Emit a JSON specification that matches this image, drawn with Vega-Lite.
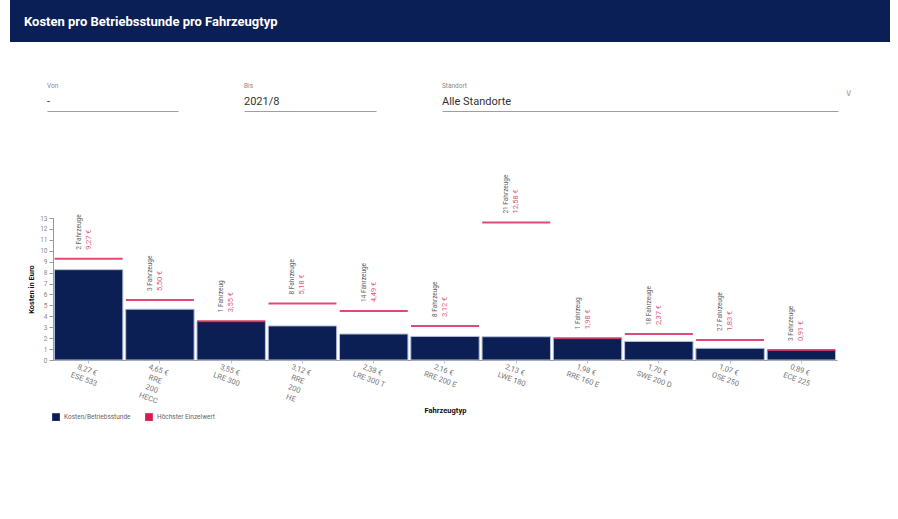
{
  "$schema": "https://vega.github.io/schema/vega-lite/v6.json",
  "background": "white",
  "padding": {"left": 10, "top": 0, "right": 8, "bottom": 5},
  "config": {
    "font": "Roboto",
    "view": {"stroke": null},
    "axis": {"labelOverlap": false},
    "axisY": {"labelOverlap": false, "labelSeparation": -20, "values": [0,1,2,3,4,5,6,7,8,9,10,11,12,13]},
    "locale": {"number": {"decimal": ",", "thousands": ".", "grouping": [3], "currency": ["", " €"]}}
  },
  "spacing": 41,
  "vconcat": [
    {
      "width": 880,
      "height": 42,
      "view": {"fill": "#0b1f57", "stroke": null},
      "title": {"text": "Kosten pro Betriebsstunde pro Fahrzeugtyp", "anchor": "start", "orient": "top", "offset": -35, "dx": 14, "color": "#ffffff", "fontSize": 13, "fontWeight": "bold", "baseline": "middle"},
      "data": {"values": [{}]},
      "mark": {"type": "point", "opacity": 0, "size": 0},
      "encoding": {}
    },
    {
      "spacing": 63,
      "vconcat": [
        {
          "spacing": 36,
          "hconcat": [
            {"width": 1, "height": 1, "data": {"values": []}, "mark": "point", "encoding": {}},
            {
              "spacing": 66,
              "hconcat": [
                {
                  "width": 131, "height": 28,
                  "title": {"text": "Von", "subtitle": "-", "anchor": "start", "fontSize": 6.5, "fontWeight": "normal", "color": "#888888", "subtitleFontSize": 11, "subtitleColor": "#333333", "subtitlePadding": 6.5, "offset": -24},
                  "data": {"values": [{}]},
                  "mark": {"type": "point", "opacity": 0, "size": 0},
                  "encoding": {"x": {"datum": 0, "type": "quantitative", "axis": {"title": null, "labels": false, "ticks": false, "grid": false, "domainColor": "#9e9e9e", "domainWidth": 1}}}
                },
                {
                  "width": 132, "height": 28,
                  "title": {"text": "Bis", "subtitle": "2021/8", "anchor": "start", "fontSize": 6.5, "fontWeight": "normal", "color": "#888888", "subtitleFontSize": 11, "subtitleColor": "#333333", "subtitlePadding": 6.5, "offset": -24},
                  "data": {"values": [{}]},
                  "mark": {"type": "point", "opacity": 0, "size": 0},
                  "encoding": {"x": {"datum": 0, "type": "quantitative", "axis": {"title": null, "labels": false, "ticks": false, "grid": false, "domainColor": "#9e9e9e", "domainWidth": 1}}}
                },
                {
                  "width": 396, "height": 28,
                  "title": {"text": "Standort", "subtitle": "Alle Standorte", "anchor": "start", "fontSize": 6.5, "fontWeight": "normal", "color": "#888888", "subtitleFontSize": 11, "subtitleColor": "#333333", "subtitlePadding": 6.5, "offset": -24},
                  "data": {"values": [{}]},
                  "mark": {"type": "point", "opacity": 0, "size": 0},
                  "encoding": {"x": {"datum": 0, "type": "quantitative", "axis": {"title": "∨", "titleAnchor": "end", "titleAlign": "left", "titleX": 402, "titleY": -19, "titleBaseline": "middle", "titleColor": "#aaaaaa", "titleFontSize": 10, "titleFontWeight": "normal", "labels": false, "ticks": false, "grid": false, "domainColor": "#9e9e9e", "domainWidth": 1}}}
                }
              ]
            }
          ]
        },
        {
          "spacing": 16,
          "hconcat": [
            {"width": 1, "height": 1, "data": {"values": []}, "mark": "point", "encoding": {}},
            {
              "width": 784,
              "height": 142,
              "data": {"values": [
                {"typ": "ESE 533", "achse": "8,27 €|ESE 533", "kosten": 8.27, "max": 9.27, "fahrzeuge": "2 Fahrzeuge"},
                {"typ": "RRE 200 HECC", "achse": "4,65 €|RRE|200|HECC", "kosten": 4.65, "max": 5.50, "fahrzeuge": "3 Fahrzeuge"},
                {"typ": "LRE 300", "achse": "3,55 €|LRE 300", "kosten": 3.55, "max": 3.55, "fahrzeuge": "1 Fahrzeug"},
                {"typ": "RRE 200 HE", "achse": "3,12 €|RRE|200|HE", "kosten": 3.12, "max": 5.18, "fahrzeuge": "8 Fahrzeuge"},
                {"typ": "LRE 300 T", "achse": "2,38 €|LRE 300 T", "kosten": 2.38, "max": 4.49, "fahrzeuge": "14 Fahrzeuge"},
                {"typ": "RRE 200 E", "achse": "2,16 €|RRE 200 E", "kosten": 2.16, "max": 3.12, "fahrzeuge": "8 Fahrzeuge"},
                {"typ": "LWE 180", "achse": "2,13 €|LWE 180", "kosten": 2.13, "max": 12.58, "fahrzeuge": "21 Fahrzeuge"},
                {"typ": "RRE 160 E", "achse": "1,98 €|RRE 160 E", "kosten": 1.98, "max": 1.98, "fahrzeuge": "1 Fahrzeug"},
                {"typ": "SWE 200 D", "achse": "1,70 €|SWE 200 D", "kosten": 1.70, "max": 2.37, "fahrzeuge": "18 Fahrzeuge"},
                {"typ": "OSE 250", "achse": "1,07 €|OSE 250", "kosten": 1.07, "max": 1.83, "fahrzeuge": "27 Fahrzeuge"},
                {"typ": "ECE 225", "achse": "0,89 €|ECE 225", "kosten": 0.89, "max": 0.91, "fahrzeuge": "3 Fahrzeuge"}
              ]},
              "encoding": {
                "x": {
                  "field": "achse", "type": "nominal", "sort": null, "title": "Fahrzeugtyp",
                  "scale": {"paddingInner": 0.04, "paddingOuter": 0.02},
                  "axis": {"labelExpr": "split(datum.value, '|')", "labelAngle": 20, "labelAlign": "center", "labelBaseline": "top", "labelFontSize": 7.5, "labelColor": "#777777", "labelLineHeight": 10, "labelPadding": 3, "labelOverlap": false, "labelLimit": 0, "tickColor": "#a9c5ea", "tickSize": 3, "domainColor": "#999999", "titleFontSize": 7.5, "titleFontWeight": "bold", "titleColor": "#111111", "titlePadding": 2}
                },
                "y": {"type": "quantitative", "title": "Kosten in Euro", "scale": {"domain": [0, 13], "nice": false},
                  "axis": {"values": [0,1,2,3,4,5,6,7,8,9,10,11,12,13], "labelOverlap": false, "labelSeparation": -20, "labelFlush": false, "grid": false, "labelFontSize": 6.5, "labelColor": "#888888", "labelPadding": 2, "tickSize": 4, "tickColor": "#999999", "domainColor": "#999999", "titleFontSize": 7.5, "titleFontWeight": "bold", "titleColor": "#111111", "titlePadding": 4}}
              },
              "layer": [
                {
                  "mark": {"type": "bar", "stroke": "#b3c0dc", "strokeWidth": 1},
                  "encoding": {
                    "y": {"field": "kosten", "type": "quantitative", "title": "Kosten in Euro"},
                    "color": {"datum": "Kosten/Betriebsstunde", "type": "nominal",
                      "scale": {"domain": ["Kosten/Betriebsstunde", "Höchster Einzelwert"], "range": ["#0c1f55", "#d81b4f"]},
                      "legend": {"orient": "none", "legendX": 42, "legendY": 413, "direction": "horizontal", "title": null, "symbolType": "square", "symbolSize": 60, "symbolStrokeWidth": 0, "labelFontSize": 6.5, "labelColor": "#666666", "columnPadding": 14}}
                  }
                },
                {
                  "mark": {"type": "tick", "thickness": 2, "size": 68, "opacity": 0.8},
                  "encoding": {
                    "y": {"field": "max", "type": "quantitative", "title": "Kosten in Euro"},
                    "color": {"datum": "Höchster Einzelwert", "type": "nominal"}
                  }
                },
                {
                  "mark": {"type": "text", "angle": 270, "align": "left", "baseline": "middle", "dx": 9, "fontSize": 7.5, "color": "#e05a7e"},
                  "encoding": {
                    "y": {"field": "max", "type": "quantitative", "title": "Kosten in Euro"},
                    "text": {"field": "max", "type": "quantitative", "format": "$.2f"}
                  }
                },
                {
                  "mark": {"type": "text", "angle": 270, "align": "left", "baseline": "middle", "dx": 9, "dy": -10, "fontSize": 6.5, "color": "#666666"},
                  "encoding": {
                    "y": {"field": "max", "type": "quantitative", "title": "Kosten in Euro"},
                    "text": {"field": "fahrzeuge", "type": "nominal"}
                  }
                }
              ]
            }
          ]
        }
      ]
    }
  ]
}
